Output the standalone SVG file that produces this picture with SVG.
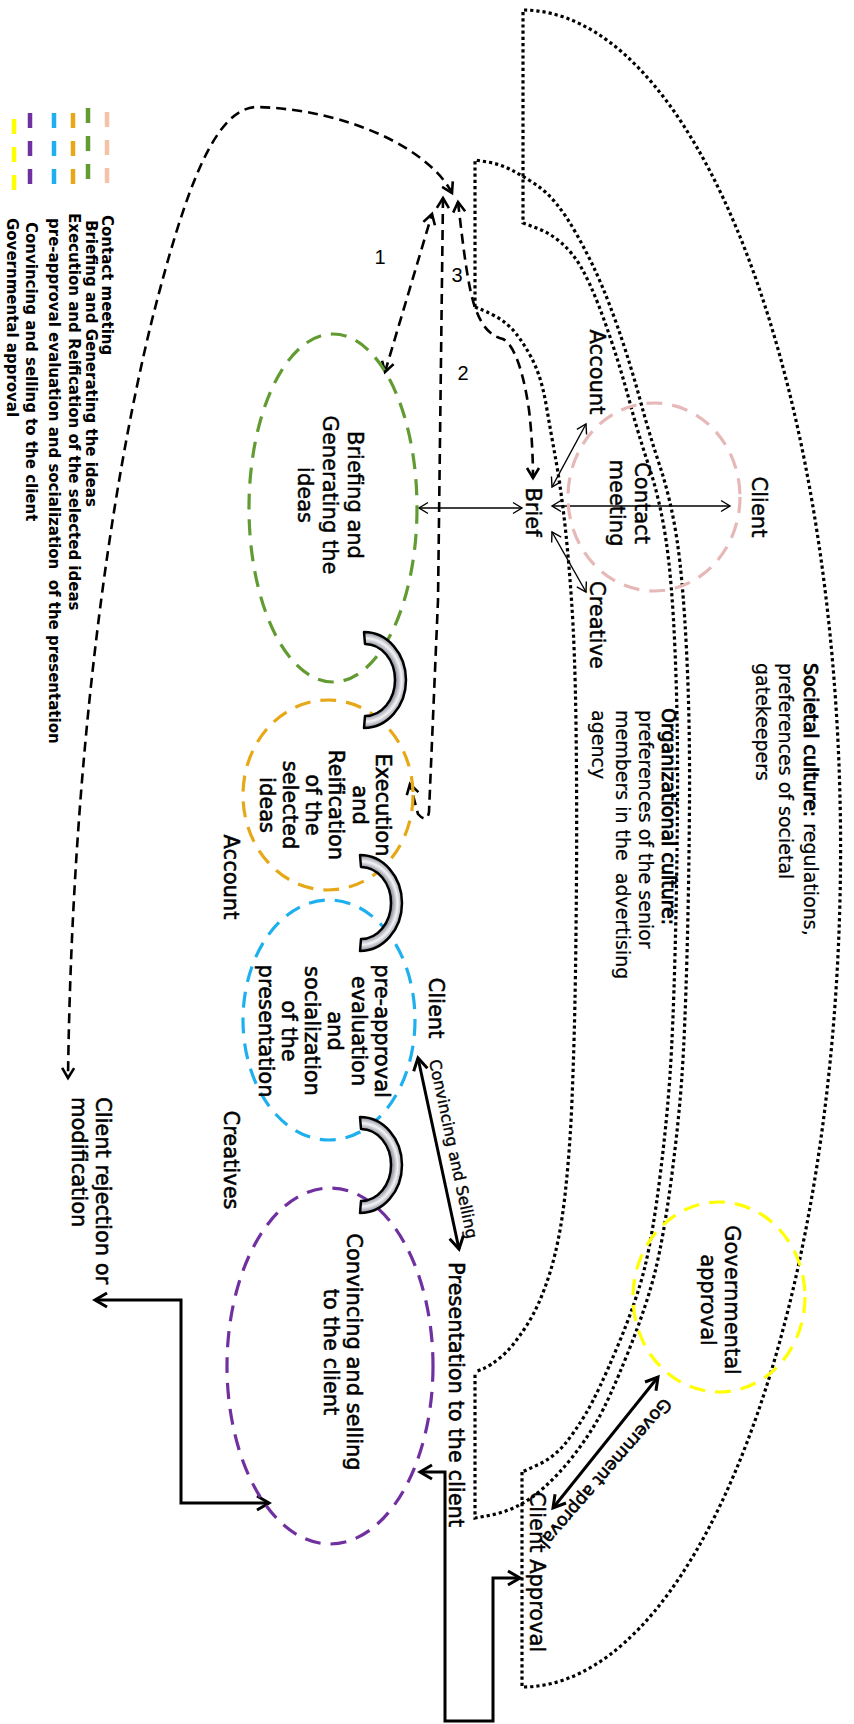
<svg xmlns="http://www.w3.org/2000/svg" xmlns:xlink="http://www.w3.org/1999/xlink" width="854" height="1724" viewBox="0 0 854 1724">
  <defs>
    <style>
      .dot { fill: none; stroke: #000; stroke-width: 3.2; stroke-dasharray: 3.2 3; }
      .ell { fill: none; stroke-width: 3.2; stroke-dasharray: 16 10; }
      .dash { fill: none; stroke: #000; stroke-width: 2.6; stroke-dasharray: 10 6; }
      .thin { fill: none; stroke: #000; stroke-width: 1.4; marker-start: url(#mThin); marker-end: url(#mThin); }
      .thick { fill: none; stroke: #000; stroke-width: 3; marker-start: url(#mThick); marker-end: url(#mThick); }
      .leg-dash { fill: none; stroke-width: 4.5; stroke-dasharray: 15 13; }
      .t { font-family: "DejaVu Sans", "Liberation Sans", sans-serif; font-size: 21px; fill: #000; stroke: #000; stroke-width: 0.45; }
      .sb { stroke-width: 0.55; }
      .lt { stroke-width: 0.2; }
      .bd { stroke-width: 0.85; }
      .leg { font-family: "DejaVu Sans", "Liberation Sans", sans-serif; font-size: 15px; font-weight: 700; fill: #000; }
      .num { font-family: "Liberation Sans", Arial, sans-serif; font-size: 20px; fill: #000; }
    </style>
    <marker id="mThin" markerUnits="userSpaceOnUse" viewBox="-12 -8 14 16" markerWidth="14" markerHeight="16" refX="0" refY="0" orient="auto-start-reverse" overflow="visible">
      <path d="M-9,-5.5 L0,0 L-9,5.5" fill="none" stroke="#000" stroke-width="1.4"/>
    </marker>
    <marker id="mDash" markerUnits="userSpaceOnUse" viewBox="-14 -9 16 18" markerWidth="16" markerHeight="18" refX="0" refY="0" orient="auto-start-reverse" overflow="visible">
      <path d="M-10,-6 L0,0 L-10,6" fill="none" stroke="#000" stroke-width="2.6"/>
    </marker>
    <marker id="mThick" markerUnits="userSpaceOnUse" viewBox="-15 -10 18 20" markerWidth="18" markerHeight="20" refX="0" refY="0" orient="auto-start-reverse" overflow="visible">
      <path d="M-12,-7 L0,0 L-12,7" fill="none" stroke="#000" stroke-width="3"/>
    </marker>
    <radialGradient id="gMetal" gradientUnits="userSpaceOnUse" cx="0" cy="0" r="42" gradientTransform="scale(1,1.14)">
      <stop offset="0.70" stop-color="#6f717e"/>
      <stop offset="0.78" stop-color="#a9abb6"/>
      <stop offset="0.87" stop-color="#f4f4f6"/>
      <stop offset="0.95" stop-color="#b2b4be"/>
      <stop offset="1" stop-color="#767884"/>
    </radialGradient>
    <path id="bracket" d="M-1,-48 A42,48 0 0 1 -1,48 L0,36 A30,36 0 0 0 0,-36 Z" fill="url(#gMetal)" stroke="#000" stroke-width="2.5" stroke-linejoin="round"/>
  </defs>

  <rect width="854" height="1724" fill="#fff"/>

  <!-- legend -->
  <g id="legend">
    <line class="leg-dash" x1="107" y1="112" x2="107" y2="186" stroke="#f4c2a6"/>
    <line class="leg-dash" x1="88" y1="108" x2="88" y2="182" stroke="#619b31"/>
    <line class="leg-dash" x1="73" y1="113" x2="73" y2="186" stroke="#e6a817"/>
    <line class="leg-dash" x1="54" y1="113" x2="54" y2="186" stroke="#1eb0ee"/>
    <line class="leg-dash" x1="30" y1="113" x2="30" y2="186" stroke="#7030a0"/>
    <line class="leg-dash" x1="14" y1="119" x2="14" y2="192" stroke="#ffff00"/>
    <text class="leg" transform="translate(102,215) rotate(90)">Contact meeting</text>
    <text class="leg" transform="translate(86,220) rotate(90)">Briefing and Generating the ideas</text>
    <text class="leg" transform="translate(69,213) rotate(90)">Execution and Reification of the selected ideas</text>
    <text class="leg" transform="translate(49,218) rotate(90)">pre-approval evaluation and socialization&#160; of the presentation</text>
    <text class="leg" transform="translate(26,222) rotate(90)">Convincing and selling to the client</text>
    <text class="leg" transform="translate(7,218) rotate(90)">Governmental approval</text>
  </g>

  <!-- culture boundaries -->
  <g id="societal-culture">
    <path class="dot" d="M522,1472 L522,1687 A318,838 0 0 0 523,10 L523,223 L536.5,228 Q550,233 561.5,243 Q573,253 581.5,268 Q590,283 598.5,305 Q607,327 615,352 Q623,377 630.5,405 Q638,433 649,466.5 Q660,500 666,540 Q672,580 675,650 Q678,720 677.5,800 Q677,880 675,955 Q673,1030 670,1075 Q667,1120 660,1176.5 Q653,1233 645,1266.5 Q637,1300 617.5,1346.5 Q598,1393 586.5,1412.5 Q575,1432 564,1445 Q553,1458 537.5,1465 L522,1472"/>
    <text class="t lt" style="font-size:19px" transform="translate(804,663) rotate(90)"><tspan x="0" y="0"><tspan class="bd">Societal culture:</tspan> regulations,</tspan><tspan x="0" y="25">preferences of societal</tspan><tspan x="0" y="48">gatekeepers</tspan></text>
  </g>
  <g id="organizational-culture">
    <path class="dot" d="M475,307 L475,160 L487.5,162 Q500,164 511.5,170 Q523,176 535,184 Q547,192 557,204.5 Q567,217 577,235 Q587,253 594.5,269 Q602,285 610,306 Q618,327 626,352 Q634,377 641.5,405 Q649,433 660,466.5 Q671,500 677,540 Q683,580 686.5,650 Q690,720 689.5,800 Q689,880 687,955 Q685,1030 682,1075 Q679,1120 671.5,1177.5 Q664,1235 655.5,1270 Q647,1305 628,1352.5 Q609,1400 597.5,1420 Q586,1440 572,1457.5 Q558,1475 544,1487.5 Q530,1500 516.5,1506.5 Q503,1513 489,1515.5 L475,1518 L475,1372"/>
    <path class="dot" d="M475,307 L480,309 Q485,311 494,315.5 Q503,320 511.5,328.5 Q520,337 530.5,356 Q541,375 546,404 Q551,433 555.5,458 Q560,483 564,516.5 Q568,550 571.5,600 Q575,650 576,725 Q577,800 576.5,875 Q576,950 575,1000 Q574,1050 572,1100 Q570,1150 565,1195 Q560,1240 550,1272.5 Q540,1305 526,1326.5 Q512,1348 501,1357 Q490,1366 482.5,1369 L475,1372"/>
    <text class="t lt" style="font-size:19px" transform="translate(662,708) rotate(90)"><tspan x="0" y="0" class="bd">Organizational culture:</tspan><tspan x="2" y="23">preferences of the senior</tspan><tspan x="2" y="46">members in the&#160; advertising</tspan><tspan x="2" y="70">agency</tspan></text>
  </g>

  <!-- connectors -->
  <g id="connectors">
    <path class="dash" d="M452,193 C430,150 350,110 258,107 C215,106 185,190 152,320 C110,490 72,760 68,1078" marker-start="url(#mDash)" marker-end="url(#mDash)"/>
    <path class="dash" d="M385,372 L432,214" marker-start="url(#mDash)" marker-end="url(#mDash)"/>
    <path class="dash" d="M443,198 L438,600 L429,812 Q427,824 418,814 L410,784" marker-start="url(#mDash)" marker-end="url(#mDash)"/>
    <path class="dash" d="M458,202 C463,245 468,290 476,310 C482,326 490,336 503,339 C515,345 524,375 529,410 C532,435 533,460 533,478" marker-start="url(#mDash)" marker-end="url(#mDash)"/>
    <path class="thin" d="M522,508 L419,508"/>
    <path class="thin" d="M552,506 L730,506"/>
    <path class="thin" d="M552,487 L586,424"/>
    <path class="thin" d="M552,532 L586,592"/>
    <path class="thick" d="M418,1058 L459,1249"/>
    <path class="thick" d="M95,1300 L181,1300 L181,1503 L269,1503"/>
    <path class="thick" d="M420,1472 L445,1472 L445,1721 L493,1721 L493,1578 L520,1578"/>
    <path class="thick" d="M553,1508 L658,1377"/>
    <text class="num" x="380" y="264" text-anchor="middle">1</text>
    <text class="num" x="463" y="380" text-anchor="middle">2</text>
    <text class="num" x="457" y="282" text-anchor="middle">3</text>
    <text class="t" style="font-size:16px; stroke-width:0.35" transform="translate(448,1150) rotate(78)" text-anchor="middle">Convincing and Selling</text>
    <text class="t sb" style="font-size:17.5px" transform="translate(601,1469) rotate(131)" text-anchor="middle">Government approval</text>
  </g>

  <!-- contact meeting -->
  <g id="contact-meeting">
    <ellipse class="ell" cx="654" cy="497" rx="86" ry="94" stroke="#e6b9b8"/>
    <text class="t" transform="translate(635,503) rotate(90)" text-anchor="middle"><tspan x="0" y="0">Contact</tspan><tspan x="0" y="25">meeting</tspan></text>
  </g>
  <g id="brief"><text class="t" transform="translate(526,512) rotate(90)" text-anchor="middle">Brief</text></g>
  <g id="account-top"><text class="t" transform="translate(590,372) rotate(90)" text-anchor="middle">Account</text></g>
  <g id="client-top"><text class="t" transform="translate(752,507) rotate(90)" text-anchor="middle">Client</text></g>
  <g id="creative-top"><text class="t" transform="translate(590,625) rotate(90)" text-anchor="middle">Creative</text></g>

  <!-- process stages -->
  <g id="briefing">
    <ellipse class="ell" cx="333" cy="508" rx="84" ry="174" stroke="#619b31"/>
    <text class="t" transform="translate(348,495) rotate(90)" text-anchor="middle"><tspan x="0" y="0">Briefing and</tspan><tspan x="0" y="25">Generating the</tspan><tspan x="0" y="50">ideas</tspan></text>
  </g>
  <g id="execution">
    <ellipse class="ell" cx="328" cy="795" rx="85" ry="95" stroke="#e6a817"/>
    <text class="t sb" transform="translate(376,805) rotate(90)" text-anchor="middle"><tspan x="0" y="0">Execution</tspan><tspan x="0" y="23.3">and</tspan><tspan x="0" y="46.6">Reification</tspan><tspan x="0" y="70">of the</tspan><tspan x="0" y="93">selected</tspan><tspan x="0" y="116">ideas</tspan></text>
  </g>
  <g id="pre-approval">
    <ellipse class="ell" cx="329" cy="1020" rx="86" ry="120" stroke="#1eb0ee"/>
    <text class="t sb" transform="translate(375,1031) rotate(90)" text-anchor="middle"><tspan x="0" y="0">pre-approval</tspan><tspan x="0" y="23.3">evaluation</tspan><tspan x="0" y="46.6">and</tspan><tspan x="0" y="70">socialization</tspan><tspan x="0" y="93">of the</tspan><tspan x="0" y="116">presentation</tspan></text>
  </g>
  <g id="convincing">
    <ellipse class="ell" cx="330" cy="1366" rx="103" ry="178" stroke="#7030a0"/>
    <text class="t sb" transform="translate(347,1352) rotate(90)" text-anchor="middle"><tspan x="0" y="0">Convincing and selling</tspan><tspan x="0" y="23">to the client</tspan></text>
  </g>
  <g id="governmental">
    <ellipse class="ell" cx="719" cy="1297" rx="86" ry="95" stroke="#ffff00"/>
    <text class="t" transform="translate(725,1300) rotate(90)" text-anchor="middle"><tspan x="0" y="0">Governmental</tspan><tspan x="0" y="24">approval</tspan></text>
  </g>

  <!-- stage joints -->
  <g id="joint-1"><use xlink:href="#bracket" transform="translate(365,680)"/></g>
  <g id="joint-2"><use xlink:href="#bracket" transform="translate(361,903)"/></g>
  <g id="joint-3"><use xlink:href="#bracket" transform="translate(361,1165)"/></g>

  <!-- side labels -->
  <g id="account-side"><text class="t sb" transform="translate(224,877) rotate(90)" text-anchor="middle">Account</text></g>
  <g id="creatives-side"><text class="t sb" transform="translate(224,1160) rotate(90)" text-anchor="middle">Creatives</text></g>
  <g id="client-side"><text class="t sb" transform="translate(429,1008) rotate(90)" text-anchor="middle">Client</text></g>
  <g id="presentation"><text class="t sb" transform="translate(449,1262) rotate(90)">Presentation to the client</text></g>
  <g id="client-rejection"><text class="t sb" transform="translate(96,1097) rotate(90)"><tspan x="0" y="0">Client rejection or</tspan><tspan x="0" y="24">modification</tspan></text></g>
  <g id="client-approval"><text class="t" transform="translate(530,1572) rotate(90)" text-anchor="middle">Client Approval</text></g>
</svg>
